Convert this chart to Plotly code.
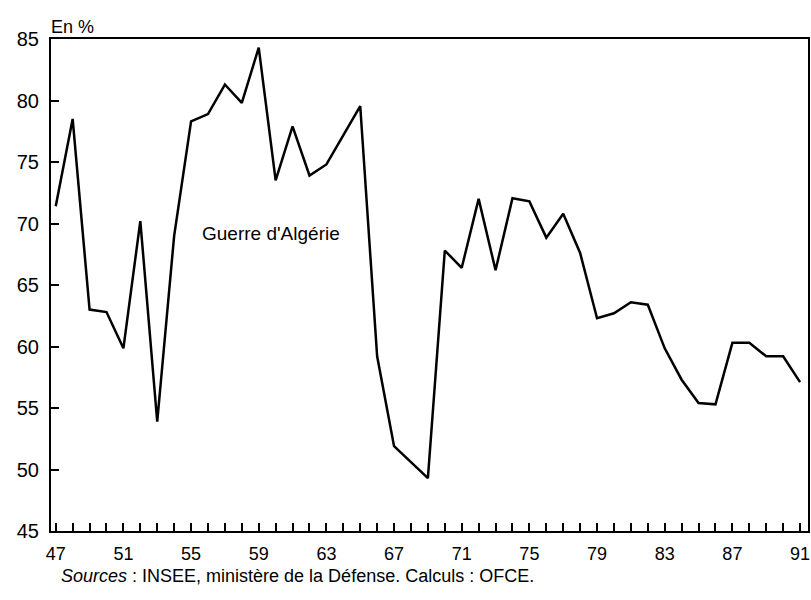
import plotly.graph_objects as go

years = list(range(1947, 1992))
share = [71.4, 78.5, 63.0, 62.8, 59.85, 70.2, 53.9, 69.0, 78.3, 78.9,
         81.3, 79.8, 84.3, 73.5, 77.9, 73.9, 74.8, 77.2, 79.55, 59.2,
         51.9, 50.6, 49.3, 67.8, 66.4, 72.0, 66.2, 72.05, 71.8, 68.85,
         70.8, 67.6, 62.3, 62.7, 63.6, 63.4, 59.85, 57.3, 55.4, 55.3,
         60.3, 60.3, 59.2, 59.2, 57.1]
x_tick_vals = list(range(1947, 1992, 4))
x_tick_text = [str(v)[2:] for v in x_tick_vals]
y_tick_vals = [45, 50, 55, 60, 65, 70, 75, 80, 85]

font_family = "Liberation Sans, Arial, sans-serif"

fig = go.Figure()
fig.add_trace(go.Scatter(x=years, y=share, mode="lines",
                         line=dict(color="black", width=2.5),
                         showlegend=False, hoverinfo="skip"))

fig.update_layout(
    width=811, height=600,
    margin=dict(l=51, r=3, t=39, b=69, autoexpand=False),
    paper_bgcolor="white", plot_bgcolor="white",
    font=dict(family=font_family, color="black"),
    xaxis=dict(range=[1946.72, 1991.47], showgrid=False, zeroline=False,
               showline=True, linecolor="black", linewidth=2, mirror=True,
               tickmode="array", tickvals=x_tick_vals, ticktext=x_tick_text,
               ticks="inside", ticklen=8, tickwidth=1.5, tickcolor="black",
               ticklabelstandoff=5,
               minor=dict(dtick=1, tick0=1947, ticks="inside", ticklen=8,
                          tickwidth=1.5, tickcolor="black"),
               tickfont=dict(size=18, family=font_family, color="black")),
    yaxis=dict(range=[45, 85], showgrid=False, zeroline=False,
               showline=True, linecolor="black", linewidth=2, mirror=True,
               tickmode="array", tickvals=y_tick_vals,
               ticks="inside", ticklen=8, tickwidth=1.5, tickcolor="black",
               ticklabelstandoff=6,
               tickfont=dict(size=20, family=font_family, color="black")),
    annotations=[
        dict(text="En %", xref="paper", yref="paper", x=-0.002, y=1.0,
             xanchor="left", yanchor="bottom", showarrow=False,
             font=dict(size=18, color="black")),
        dict(text="Guerre d'Algérie", xref="x", yref="y", x=1959.75, y=69.2,
             xanchor="center", yanchor="middle", showarrow=False,
             font=dict(size=19, color="black")),
        dict(text="<i>Sources</i> : INSEE, ministère de la Défense. Calculs : OFCE.",
             xref="paper", yref="paper", x=0.01, y=-0.068,
             xanchor="left", yanchor="top", showarrow=False,
             font=dict(size=18, color="black")),
    ],
)

fig.write_html("out.html", config={"displayModeBar": False},
               post_script="document.body.style.margin='0';document.body.style.overflow='hidden';")
